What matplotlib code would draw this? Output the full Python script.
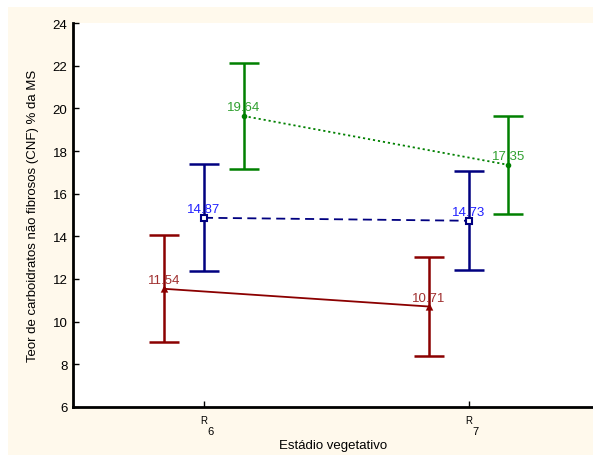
import matplotlib
matplotlib.use("Agg")
import matplotlib.pyplot as plt
from matplotlib.patches import Rectangle
import matplotlib.transforms as mtransforms

plt.rcParams["font.family"] = ["Liberation Sans", "DejaVu Sans"]

# --- Data ---
stages = ["R6", "R7"]
stage_pos = [1, 2]
offsets = [-0.15, 0.0, 0.15]
red_means = [11.54, 10.71]
blue_means = [14.87, 14.73]
green_means = [19.64, 17.35]
ci_half = [2.5, 2.31]

series = [
    (red_means, "#8B0000", "#A03030", "-", "^", 3),
    (blue_means, "#000080", "#2020FF", (0, (5, 3)), "s", 4.5),
    (green_means, "#008000", "#30A030", (0, (1.2, 1.6)), "o", 2.5),
]

fig = plt.figure(figsize=(5.93, 4.56), dpi=100, facecolor="white")
fig.patches.append(Rectangle((8 / 593, 0), 1, (456 - 8) / 456,
                             transform=fig.transFigure, facecolor="#FFF9EC",
                             edgecolor="none", zorder=-10))

ax = fig.add_axes([73 / 593, 48 / 456, (593 - 73) / 593, (408 - 24) / 456])
ax.set_facecolor("white")

for (means, col, lab_col, ls, mk, ms), off in zip(series, offsets):
    xs = [p + off for p in stage_pos]
    ax.errorbar(xs, means, yerr=ci_half, fmt="none", ecolor=col,
                elinewidth=1.8, capsize=10.5, capthick=1.8, zorder=3)
    ax.plot(xs, means, color=col, linestyle=ls, linewidth=1.3,
            marker=mk, markersize=ms, markerfacecolor="white" if mk == "s" else col,
            markeredgecolor=col, markeredgewidth=1.5, zorder=4)
    for x, v in zip(xs, means):
        ax.annotate(f"{v:.2f}", (x, v), xytext=(0, 2), textcoords="offset points",
                    ha="center", va="bottom", fontsize=9.5, color=lab_col, zorder=5)

ax.set_xlim(0.505, 2.47)
ax.set_ylim(6, 24)
ax.set_yticks(range(6, 25, 2))
ax.set_xticks(stage_pos)
ax.set_xticklabels([""] * len(stage_pos))

trans = mtransforms.blended_transform_factory(ax.transData, ax.transAxes)
for p, lab in zip(stage_pos, stages):
    ax.text(p, -0.035, lab[0], transform=trans, ha="center", va="center", fontsize=7)
    ax.text(p + 0.025, -0.062, lab[1:], transform=trans, ha="center", va="center", fontsize=8)

for s in ["top", "right"]:
    ax.spines[s].set_visible(False)
for s in ["left", "bottom"]:
    ax.spines[s].set_linewidth(2)
ax.tick_params(direction="in", length=4, width=1, labelsize=9.5, pad=4)

ax.set_xlabel("Estádio vegetativo", fontsize=9.5, labelpad=19)
ax.set_ylabel("Teor de carboidratos não fibrosos (CNF) % da MS", fontsize=9.5, labelpad=10)

fig.savefig("out.png", dpi=100)
